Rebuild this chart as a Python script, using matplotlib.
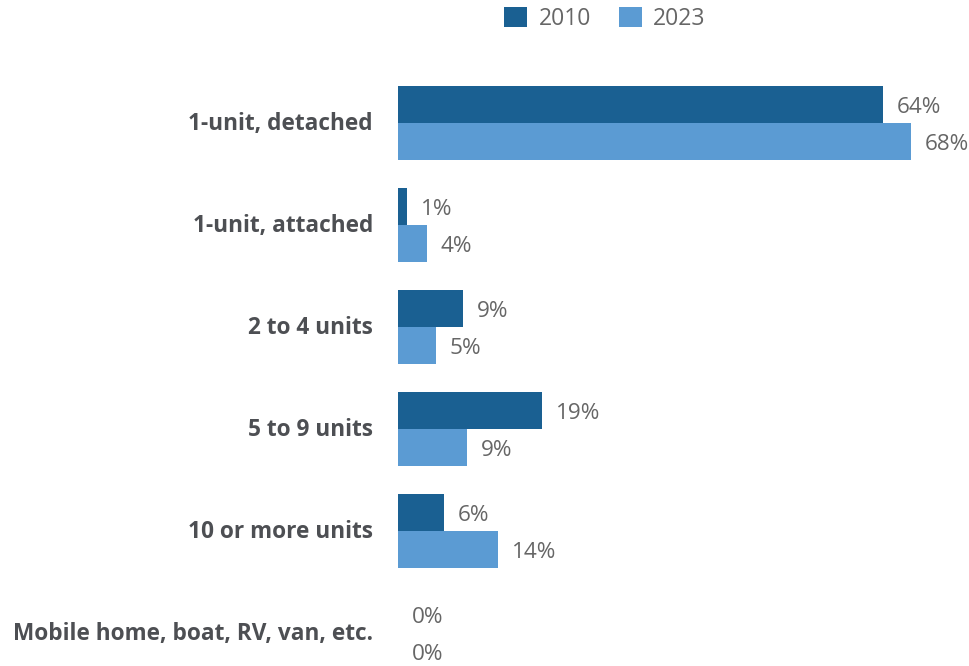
import matplotlib.pyplot as plt
import numpy as np

plt.rcParams['font.family'] = ['Open Sans', 'DejaVu Sans']

categories = ['1-unit, detached', '1-unit, attached', '2 to 4 units',
              '5 to 9 units', '10 or more units', 'Mobile home, boat, RV, van, etc.']
vals_2010 = [64.3, 1.2, 8.6, 19.1, 6.1, 0.0]
vals_2023 = [68.0, 3.9, 5.0, 9.2, 13.3, 0.0]
labels_2010 = ['64%', '1%', '9%', '19%', '6%', '0%']
labels_2023 = ['68%', '4%', '5%', '9%', '14%', '0%']

c2010 = '#1a6092'
c2023 = '#5b9bd3'
txt_grey = '#666666'
cat_grey = '#4d4f53'

fig = plt.figure(figsize=(9.69, 6.66), dpi=100)
ax = fig.add_axes([398 / 969, 0, 562 / 969, (666 - 72) / 666])

y = np.arange(len(categories))
h = 0.363
b1 = ax.barh(y - h / 2, vals_2010, height=h, color=c2010, label='2010')
b2 = ax.barh(y + h / 2, vals_2023, height=h, color=c2023, label='2023')

for i in range(len(categories)):
    ax.text(vals_2010[i] + 1.8, y[i] - h / 2 + 0.025, labels_2010[i], va='center', ha='left',
            fontsize=16.2, color=txt_grey)
    ax.text(vals_2023[i] + 1.8, y[i] + h / 2 + 0.025, labels_2023[i], va='center', ha='left',
            fontsize=16.2, color=txt_grey)

ax.set_xlim(0, 562 / 7.54)
ax.set_ylim(5.32, -0.5)
ax.set_yticks(y - 0.02)
ax.set_yticklabels(categories, fontsize=16.3, fontweight='bold', color=cat_grey)
ax.tick_params(axis='y', length=0, pad=18)
ax.set_xticks([])
for s in ax.spines.values():
    s.set_visible(False)

fig.legend(handles=[b1, b2], loc='center', bbox_to_anchor=(605 / 969, 1 - 19 / 666),
           ncol=2, frameon=False, fontsize=16.5, labelcolor=txt_grey,
           handlelength=1.0, handleheight=1.0, handletextpad=0.5, columnspacing=1.2)

fig.savefig('out.png', dpi=100)
